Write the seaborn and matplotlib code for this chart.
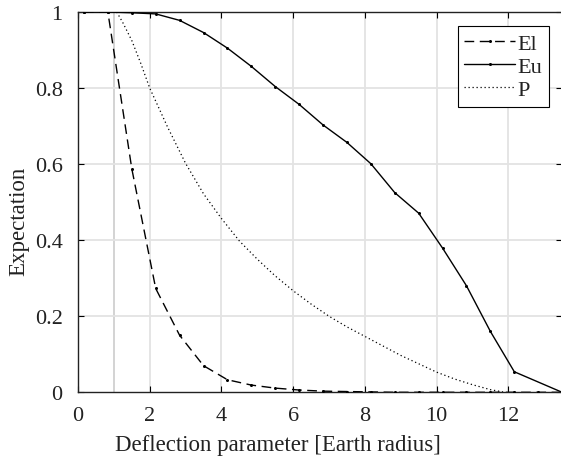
import matplotlib
matplotlib.use("Agg")
import matplotlib.pyplot as plt
import seaborn as sns
import pandas as pd
import numpy as np

# Data
x_E = [0.167, 0.833, 1.5, 2.167, 2.833, 3.5, 4.167, 4.833, 5.5, 6.167, 6.833,
       7.5, 8.167, 8.833, 9.5, 10.167, 10.833, 11.5, 12.167, 12.833, 13.5]
el = [1.0, 1.0, 0.588, 0.273, 0.150, 0.070, 0.033, 0.019, 0.011, 0.006, 0.003,
      0.002, 0.001, 0.0, 0.0, 0.0, 0.0, 0.0, 0.0, 0.0, 0.0]
x_Eu = [0.167, 0.833, 1.5, 2.167, 2.833, 3.5, 4.167, 4.833, 5.5, 6.167, 6.833,
        7.5, 8.167, 8.833, 9.5, 10.167, 10.833, 11.5, 12.167, 13.5]
eu = [1.0, 1.0, 0.998, 0.995, 0.978, 0.946, 0.905, 0.857, 0.804, 0.757, 0.703,
      0.657, 0.601, 0.525, 0.471, 0.379, 0.280, 0.160, 0.054, 0.0]
x_P = [1.08, 1.25, 1.5, 1.75, 2.0, 2.5, 3.0, 3.5, 4.0, 4.5, 5.0, 5.5, 6.0,
       6.5, 7.0, 7.5, 8.0, 8.5, 9.0, 9.5, 10.0, 10.5, 11.0, 11.5, 11.9]
p = [1.0, 0.972, 0.925, 0.865, 0.80, 0.697, 0.602, 0.522, 0.457, 0.398, 0.35,
     0.306, 0.267, 0.232, 0.20, 0.172, 0.147, 0.122, 0.097, 0.075, 0.053,
     0.035, 0.020, 0.007, 0.0]

x_ticks = [0, 2, 4, 6, 8, 10, 12]
y_ticks = [0, 0.2, 0.4, 0.6, 0.8, 1.0]
y_ticklabels = ["0", "0.2", "0.4", "0.6", "0.8", "1"]

sns.set_theme(style="white")
plt.rcParams['font.family'] = ['Liberation Serif', 'DejaVu Serif']

fig = plt.figure(figsize=(5.61, 4.60), dpi=100)
ax = fig.add_axes([78 / 561, 1 - 393.3 / 460, 1 - 78 / 561 + 0.002, (393.3 - 13) / 460])

for v in [2, 4, 6, 8, 10, 12]:
    ax.axvline(v, color="#e3e3e3", lw=1.3, zorder=0)
ax.axvline(1, color="#d0d0d0", lw=1.3, zorder=0)
for v in [0.2, 0.4, 0.6, 0.8]:
    ax.axhline(v, color="#e3e3e3", lw=1.3, zorder=0)

df_el = pd.DataFrame({"x": x_E, "y": el})
df_eu = pd.DataFrame({"x": x_Eu, "y": eu})
df_p = pd.DataFrame({"x": x_P, "y": p})

sns.lineplot(data=df_el, x="x", y="y", ax=ax, color="black", lw=1.0,
             marker="o", markersize=2.2, markeredgewidth=0,
             linestyle=(0, (7, 4)), label="El", zorder=3)
sns.lineplot(data=df_eu, x="x", y="y", ax=ax, color="black", lw=1.0,
             marker="o", markersize=2.2, markeredgewidth=0, label="Eu", zorder=3)
sns.lineplot(data=df_p, x="x", y="y", ax=ax, color="black", lw=0.9,
             linestyle=(0, (1, 2.2)), label="P", zorder=3)

ax.set_xlim(0, 13.5)
ax.set_ylim(0, 1)
ax.set_xticks(x_ticks)
ax.set_xticklabels([str(t) for t in x_ticks])
ax.set_yticks(y_ticks)
ax.set_yticklabels(y_ticklabels)
ax.tick_params(direction="in", length=4, width=0.8, colors="black",
               labelsize=16, top=True, right=True, bottom=True, left=True)
ax.tick_params(axis="x", pad=10)
ax.tick_params(axis="y", pad=11)
for t in ax.get_xticklabels() + ax.get_yticklabels():
    t.set_color("#222222")
for s in ax.spines.values():
    s.set_visible(True)
    s.set_color("#222222")
    s.set_linewidth(1.0)

ax.set_xlabel("Deflection parameter [Earth radius]", fontsize=16.5,
              color="#222222")
ax.set_ylabel("Expectation", fontsize=16.5, color="#222222")
# label positions (axes fraction)
ax.xaxis.set_label_coords((277 - 78) / 483, -(435 - 393.3) / 380.3)
ax.yaxis.set_label_coords(-(78 - 29) / 483, (393.3 - 221) / 380.3)

leg = ax.legend(loc="upper right", bbox_to_anchor=(0.973, 0.962), fontsize=16,
                frameon=True, fancybox=False, edgecolor="black",
                handlelength=2.3, handletextpad=0.1, borderpad=0.3,
                labelspacing=0.12, borderaxespad=0.0)
leg.get_frame().set_linewidth(0.8)
leg.get_frame().set_alpha(1)
for t in leg.get_texts():
    t.set_color("#222222")

fig.savefig("out.png", dpi=100)
